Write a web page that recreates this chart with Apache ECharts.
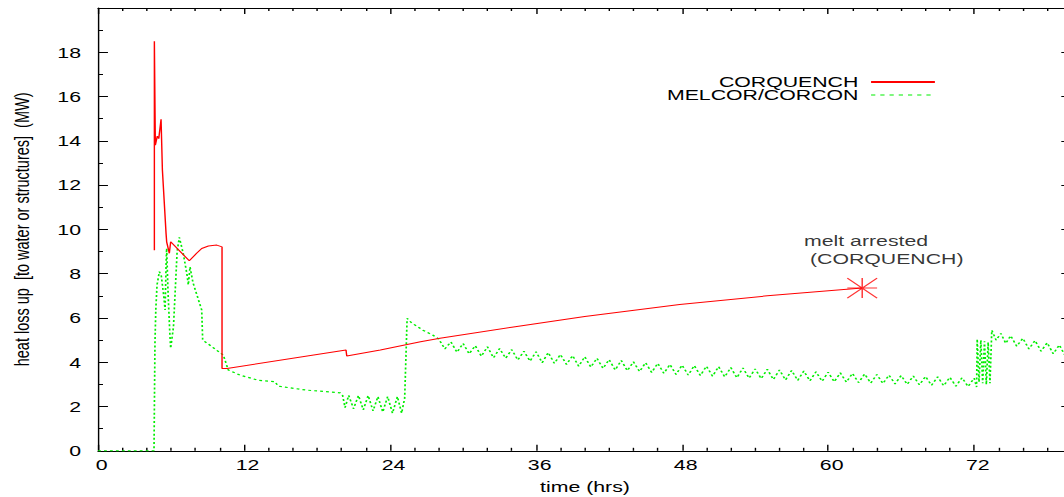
<!DOCTYPE html>
<html>
<head>
<meta charset="utf-8">
<script src="https://cdn.jsdelivr.net/npm/echarts@6/dist/echarts.min.js"></script>
<style>
  html, body { margin: 0; padding: 0; background: #fff; overflow: hidden; width: 1064px; height: 497px; }
  /* the plot is laid out on a 750px-wide canvas and widened to the page width */
  #chart { width: 750px; height: 497px; transform: scaleX(1.418667); transform-origin: 0 0; }
</style>
</head>
<body>
<div id="chart"></div>
<script>
// CORQUENCH: heat loss upward (MW) against time (hrs)
const corquenchHours = [4.63, 4.63, 4.71, 4.87, 4.99, 5.18, 5.29, 5.59, 5.64, 5.86,
  5.97, 7.5, 8.1, 8.52, 9.07, 9.76, 10.19, 10.19, 10.6, 20.38,
  20.44, 23.2, 26.5, 28.1, 34, 40, 47.8, 55, 62.8];
const corquenchMW = [9.06, 18.5, 13.8, 14.21, 14.1, 14.97, 12.68, 9.82, 9.44, 8.92,
  9.44, 8.58, 8.92, 9.14, 9.25, 9.29, 9.21, 3.72, 3.72, 4.55,
  4.28, 4.55, 4.93, 5.08, 5.58, 6.07, 6.61, 7.0, 7.35];

// MELCOR/CORCON: heat loss upward (MW) against time (hrs)
const melcorHours = [
  0, 4.6, 4.64, 4.68, 4.75, 4.85, 5.04, 5.2, 5.4, 5.51,
  5.6, 5.64, 5.75, 5.9, 5.97, 6.2, 6.35, 6.5, 6.68, 7.0,
  7.3, 7.42, 7.56, 7.8, 8.52, 8.6, 9.07, 10.3, 10.7, 11.67,
  13.2, 14.55, 14.8, 17.15, 19.9,
  20.1, 20.3, 20.6, 21.0, 21.4, 21.8, 22.2, 22.6, 23.0, 23.4,
  23.8, 24.2, 24.6, 24.95, 25.2, 25.4, 25.77, 26.7, 27.5,
  28.0, 28.5, 29.0, 29.5, 30.0, 30.5, 31.0, 31.5, 32.0, 32.5,
  33.0, 33.5, 34.0, 34.5, 35.0, 35.5, 36.0, 36.5, 37.0, 37.5,
  38.0, 38.5, 39.0, 39.5, 40.0, 40.5, 41.0, 41.5, 42.0, 42.5,
  43.0, 43.5, 44.0, 44.5, 45.0, 45.5, 46.0, 46.5, 47.0, 47.5,
  48.0, 48.5, 49.0, 49.5, 50.0, 50.5, 51.0, 51.5, 52.0, 52.5,
  53.0, 53.5, 54.0, 54.5, 55.0, 55.5, 56.0, 56.5, 57.0, 57.5,
  58.0, 58.5, 59.0, 59.5, 60.0, 60.5, 61.0, 61.5, 62.0, 62.5,
  63.0, 63.5, 64.0, 64.5, 65.0, 65.5, 66.0, 66.5, 67.0, 67.5,
  68.0, 68.5, 69.0, 69.5, 70.0, 70.5, 71.0, 71.5, 72.0,
  72.2, 72.25, 72.4, 72.55, 72.7, 72.85, 73.0, 73.15, 73.3, 73.45,
  73.8, 74.2, 74.6, 75.0, 75.5, 76.0, 76.5, 77.0, 77.5, 78.0,
  78.5, 79.0, 79.5, 80.0];
const melcorMW = [
  0, 0, 2.5, 4.9, 6.4, 7.5, 8.09, 7.9, 7.0, 6.36,
  8.6, 9.14, 7.2, 5.3, 4.63, 5.6, 7.3, 9.0, 9.64, 8.92,
  8.0, 7.49, 8.31, 7.6, 6.36, 5.0, 4.82, 4.32, 3.65, 3.42,
  3.18, 3.12, 2.92, 2.74, 2.62,
  2.5, 1.95, 2.5, 1.9, 2.5, 1.85, 2.5, 1.8, 2.45, 1.75,
  2.45, 1.7, 2.45, 1.7, 2.38, 5.98, 5.78, 5.45, 5.23,
  5.05, 4.6, 4.92, 4.45, 4.85, 4.38, 4.75, 4.27, 4.7, 4.2,
  4.62, 4.18, 4.57, 4.1, 4.5, 4.05, 4.47, 3.98, 4.44, 3.95,
  4.35, 3.9, 4.3, 3.82, 4.25, 3.78, 4.18, 3.72, 4.12, 3.65,
  4.08, 3.62, 4.02, 3.58, 3.98, 3.54, 3.95, 3.5, 3.9, 3.45,
  3.87, 3.42, 3.85, 3.4, 3.82, 3.37, 3.8, 3.34, 3.76, 3.3,
  3.74, 3.28, 3.7, 3.26, 3.68, 3.22, 3.65, 3.2, 3.63, 3.18,
  3.6, 3.16, 3.57, 3.14, 3.55, 3.12, 3.52, 3.1, 3.5, 3.08,
  3.47, 3.06, 3.45, 3.04, 3.42, 3.02, 3.4, 3.0, 3.38, 2.98,
  3.36, 2.96, 3.34, 2.94, 3.32, 2.92, 3.3, 2.9, 3.28,
  2.88, 5.05, 3.1, 5.0, 3.05, 4.95, 3.0, 4.9, 3.05, 5.45,
  5.0, 5.3, 4.85, 5.2, 4.72, 5.08, 4.6, 4.98, 4.5, 4.88,
  4.38, 4.78, 4.27, 4.65];

const legendNames = ['CORQUENCH', 'MELCOR/CORCON'];
const xTickStep = 12;
const yTickStep = 2;

const FONT = 'Liberation Sans, Arial, sans-serif';
const pairs = (xs, ys) => xs.map((x, i) => [x, ys[i]]);
const arrestPoint = [corquenchHours[corquenchHours.length - 1], corquenchMW[corquenchMW.length - 1]];

const black = { color: '#000', width: 1 };
const xAxisBase = {
  type: 'value', min: 0, max: 84, interval: xTickStep,
  axisLine: { show: true, onZero: false, lineStyle: black },
  axisTick: { show: true, inside: true, length: 6, lineStyle: black },
  minorTick: { show: true, splitNumber: 6, length: 3, lineStyle: black },
  splitLine: { show: false }, minorSplitLine: { show: false }
};
const yAxisBase = {
  type: 'value', min: 0, max: 20, interval: yTickStep,
  axisLine: { show: true, onZero: false, lineStyle: black },
  axisTick: { show: true, inside: true, length: 7, lineStyle: black },
  minorTick: { show: true, splitNumber: 2, length: 3.5, lineStyle: black },
  splitLine: { show: false }, minorSplitLine: { show: false }
};

const chart = echarts.init(document.getElementById('chart'), null, { renderer: 'svg' });
chart.setOption({
  animation: false,
  backgroundColor: '#fff',
  textStyle: { fontFamily: FONT },
  grid: { left: 69.1, top: 8, bottom: 46.2, right: -39.6, containLabel: false, outerBoundsMode: 'none' },
  legend: {
    data: [
      { name: legendNames[0] },
      { name: legendNames[1], lineStyle: { type: [3, 3.5], width: 1 } }
    ],
    orient: 'vertical', align: 'right',
    right: 90, top: 74.5, padding: 0, itemGap: -2,
    itemWidth: 45, itemHeight: 13, selectedMode: false,
    itemStyle: { opacity: 0 },
    textStyle: { fontFamily: FONT, fontSize: 15, color: '#000', lineHeight: 13, padding: [0, 4, 0, 0] }
  },
  xAxis: [
    Object.assign({}, xAxisBase, {
      position: 'bottom',
      name: 'time (hrs)', nameLocation: 'middle', nameGap: 28,
      nameTextStyle: { fontFamily: FONT, fontSize: 15, color: '#000', padding: [0, 34, 0, 0] },
      axisLabel: { fontFamily: FONT, fontSize: 15, color: '#000', margin: 6, showMaxLabel: false, padding: [0, 0, 0, 5] }
    }),
    Object.assign({}, xAxisBase, { position: 'top', axisLabel: { show: false } })
  ],
  yAxis: [
    Object.assign({}, yAxisBase, {
      position: 'left',
      name: 'heat loss up  [to water or structures]  (MW)',
      nameLocation: 'middle', nameGap: 46, nameRotate: 90,
      nameTextStyle: { fontFamily: FONT, fontSize: 14.5, color: '#000' },
      axisLabel: { fontFamily: FONT, fontSize: 15, color: '#000', margin: 12, showMaxLabel: false }
    }),
    Object.assign({}, yAxisBase, { position: 'right', offset: -34.5, axisLabel: { show: false } })
  ],
  series: [
    {
      name: 'MELCOR/CORCON', type: 'line', data: pairs(melcorHours, melcorMW),
      symbol: 'none', silent: true, z: 2,
      itemStyle: { color: '#00ee00' },
      lineStyle: { color: '#00ee00', width: 1.2, type: [2, 2.2] }
    },
    {
      name: 'CORQUENCH', type: 'line', data: pairs(corquenchHours, corquenchMW),
      symbol: 'none', silent: true, z: 3,
      itemStyle: { color: '#ff0000' },
      lineStyle: { color: '#ff0000', width: 1 }
    },
    {
      type: 'scatter', data: [arrestPoint], silent: true, z: 4,
      symbol: 'path://M10 0L10 20M0 10L20 10M0 0L20 20M0 20L20 0',
      symbolSize: [21, 20],
      itemStyle: { color: 'none', borderColor: '#ff0000', borderWidth: 1 },
      label: {
        show: true, position: 'inside', offset: [-41, -38.6], align: 'left',
        formatter: 'melt arrested\n (CORQUENCH)',
        fontFamily: FONT, fontSize: 15, lineHeight: 17.5, color: '#000', textBorderWidth: 0
      }
    }
  ]
});
</script>
</body>
</html>
